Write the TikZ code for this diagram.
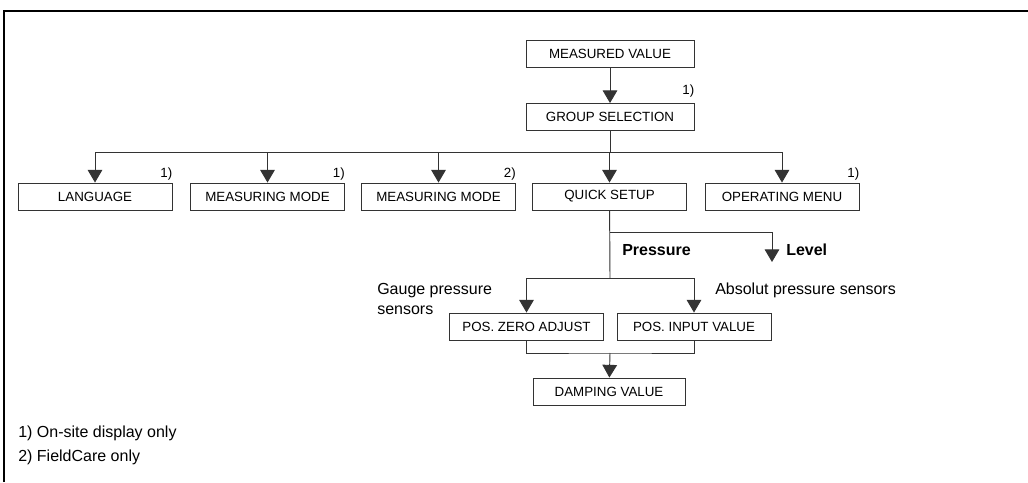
\documentclass[tikz,border=0pt]{standalone}
\usepackage{fontspec}
\setmainfont{Liberation Sans}
\usetikzlibrary{arrows.meta}
\tikzset{
  menubox/.style={draw=black!80, line width=0.7pt, minimum width=115.5pt, minimum height=20.25pt, inner sep=0pt, font=\fontsize{10}{12}\selectfont},
  footmark/.style={inner sep=0pt, font=\fontsize{10}{12}\selectfont},
  note/.style={inner sep=0pt, font=\fontsize{12}{14.4}\selectfont},
  link/.style={draw=black!80, line width=0.7pt},
}
\begin{document}
\begin{tikzpicture}[x=0.75pt,y=-0.75pt,>={Triangle[length=9.5pt,width=11pt]}]
\useasboundingbox (0,0) rectangle (1028,482);
\draw[line width=1.2pt] (4,482)--(4,11)--(1028,11);
% top of the menu
\node[menubox, minimum width=126pt] (mv) at (610,53.5) {MEASURED VALUE};
\node[menubox, minimum width=126pt] (gs) at (610,117) {GROUP SELECTION};
\node[footmark, anchor=south east] (gsnote) at ([yshift=4pt]gs.north east) {1)};
\draw[link,->] (mv) -- (gs);
% second row
\node[menubox] (lang) at (95,196.5) {LANGUAGE};
\node[menubox] (mmodea) at (267.5,196.5) {MEASURING MODE};
\node[menubox] (mmodeb) at (438.5,196.5) {MEASURING MODE};
\node[menubox] (qs) at (609.5,196.5) {QUICK SETUP};
\node[menubox] (opmenu) at (782,196.5) {OPERATING MENU};
\node[footmark, anchor=south east] (langnote) at ([yshift=1.5pt]lang.north east) {1)};
\node[footmark, anchor=south east] (mmodeanote) at ([yshift=1.5pt]mmodea.north east) {1)};
\node[footmark, anchor=south east] (mmodebnote) at ([yshift=1.5pt]mmodeb.north east) {2)};
\node[footmark, anchor=south east] (opmenunote) at ([yshift=1.5pt]opmenu.north east) {1)};
\coordinate (bus) at (610,152);
\draw[link] (gs) -- (bus);
\draw[link] (lang.north |- bus) -- (opmenu.north |- bus);
\foreach \n in {lang,mmodea,mmodeb,qs,opmenu}
  \draw[link,->] (\n.north |- bus) -- (\n.north);
% quick setup branch
\coordinate (lvlturn) at (610,232);
\coordinate (lvl) at (772,262);
\coordinate (fork) at (610,278);
\draw[link] (qs) -- (fork);
\draw[link,->] (lvlturn) -| (lvl);
\node[note, anchor=west, font=\fontsize{12}{14.4}\selectfont\bfseries] (pres) at (622,250) {Pressure};
\node[note, anchor=west, font=\fontsize{12}{14.4}\selectfont\bfseries] (level) at (786,250) {Level};
\node[menubox] (pzero) at (526.5,326.5) {POS. ZERO ADJUST};
\node[menubox] (pinput) at (694,326.5) {POS. INPUT VALUE};
\node[note, anchor=west, align=left] (gauge) at (377,299) {Gauge pressure\\sensors};
\node[note, anchor=west] (absolut) at (715,290) {Absolut pressure sensors};
\draw[link] (pzero.north |- fork) -- (pinput.north |- fork);
\draw[link,->] (pzero.north |- fork) -- (pzero.north);
\draw[link,->] (pinput.north |- fork) -- (pinput.north);
% damping
\node[menubox, minimum width=114pt] (damp) at (609,391.5) {DAMPING VALUE};
\coordinate (join) at (610,353);
\draw[link] (pzero.south) |- (join) -| (pinput.south);
\draw[link,->] (join) -- (damp);
% footnotes
\node[note, anchor=west] (fna) at (18,433) {1) On-site display only};
\node[note, anchor=west] (fnb) at (18,457) {2) FieldCare only};
\end{tikzpicture}
\end{document}
